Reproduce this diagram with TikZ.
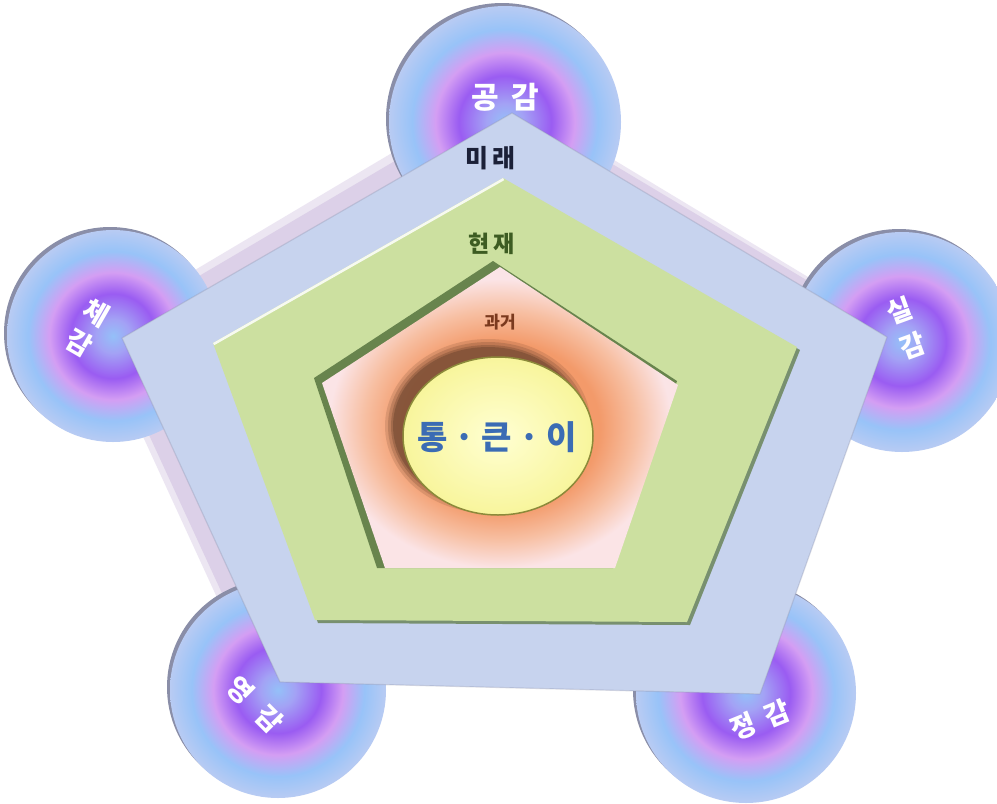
\documentclass[tikz,border=0pt]{standalone}
\usepackage{fontspec}
\usetikzlibrary{shapes.geometric}
\newfontfamily\kr{Noto Sans CJK KR}
\definecolor{orbA}{HTML}{94C0F8}
\definecolor{orbB}{HTML}{A3A2F5}
\definecolor{orbC}{HTML}{9A5CF2}
\definecolor{orbD}{HTML}{D49EF3}
\definecolor{orbE}{HTML}{98C3F8}
\definecolor{orbF}{HTML}{B8CBF3}
\definecolor{orbrim}{HTML}{8A8EA8}
\definecolor{pastA}{HTML}{F39A6A}
\definecolor{pastB}{HTML}{F7BFA2}
\definecolor{pastC}{HTML}{FBE4E6}
\definecolor{outerfill}{HTML}{C7D3EE}
\definecolor{outershadow}{HTML}{D6C8E4}
\definecolor{greenfill}{HTML}{CCE0A0}
\definecolor{greendark}{HTML}{5E7A45}
\definecolor{ellshadow}{HTML}{6E4630}
\definecolor{yelA}{HTML}{FFFFD2}
\definecolor{yelB}{HTML}{F8F59C}
\definecolor{yelrim}{HTML}{8C8A3A}
\definecolor{futurec}{HTML}{1B2038}
\definecolor{presentc}{HTML}{3D5C22}
\definecolor{pastc}{HTML}{7B3A1E}
\definecolor{centerc}{HTML}{3B6CB4}
\pgfdeclareradialshading{orb}{\pgfpoint{0bp}{0bp}}{color(0bp)=(orbA); color(4bp)=(orbB); color(10bp)=(orbC); color(15bp)=(orbD); color(20bp)=(orbE); color(25bp)=(orbF); color(50bp)=(orbF)}
\pgfdeclareradialshading{pastshade}{\pgfpoint{0bp}{-2bp}}{color(0bp)=(pastA); color(14bp)=(pastA); color(19bp)=(pastB); color(24bp)=(pastC); color(50bp)=(pastC)}
\tikzset{
  orbnode/.style={circle, inner sep=0pt, shading=orb, draw=none},
  orbtext/.style={text=white, font=\kr\bfseries\fontsize{28}{36}\selectfont, align=center, inner sep=0pt},
}
\begin{document}
\begin{tikzpicture}[x=1pt,y=-1pt]
\useasboundingbox (0,0) rectangle (997,804);
\fill[white] (0,0) rectangle (997,804);

% outer pentagon vertices
\coordinate (oT) at (512,113);
\coordinate (oL) at (122,338);
\coordinate (oR) at (887,337);
\coordinate (oBL) at (280,682);
\coordinate (oBR) at (760,694);

% soft shadow of the outer pentagon
\fill[outershadow, opacity=0.45] (498,90) -- (876,318) -- (755,690) -- (254,678) -- (94,330) -- cycle;
\fill[outershadow, opacity=0.7] (502,98) -- (880,324) -- (755,690) -- (262,680) -- (102,333) -- cycle;

% circles (rim shadow, then shaded disc)
\fill[orbrim] (502,119) circle (116);
\node[orbnode, minimum size=232pt] (cTop) at (505,122) {};
\fill[orbrim] (110,333) circle (106);
\node[orbnode, minimum size=212pt] (cLeft) at (113,336) {};
\fill[orbrim] (899,339) circle (110);
\node[orbnode, minimum size=220pt] (cRight) at (902,342) {};
\fill[orbrim] (275,687) circle (108);
\node[orbnode, minimum size=216pt] (cBL) at (278,690) {};
\fill[orbrim] (743,690) circle (110);
\node[orbnode, minimum size=220pt] (cBR) at (746,693) {};

% outer pentagon
\fill[outerfill] (oT) -- (oR) -- (oBR) -- (oBL) -- (oL) -- cycle;
\draw[orbrim, opacity=0.3, line width=1.2pt, line join=round] (oT) -- (oR) -- (oBR) -- (oBL) -- (oL) -- cycle;

% green pentagon
\coordinate (gT) at (503,178);
\coordinate (gL) at (213,343);
\coordinate (gR) at (797,347);
\coordinate (gBL) at (315,620);
\coordinate (gBR) at (687,622);
\fill[greendark, opacity=0.75] ([shift={(3,3)}]gT) -- ([shift={(3,3)}]gR) -- ([shift={(3,3)}]gBR) -- ([shift={(3,3)}]gBL) -- ([shift={(3,3)}]gL) -- cycle;
\fill[greenfill] (gT) -- (gR) -- (gBR) -- (gBL) -- (gL) -- cycle;
\begin{scope}
  \clip (gT) -- (gR) -- (gBR) -- (gBL) -- (gL) -- cycle;
  \draw[white, opacity=0.85, line width=5pt] (gL) -- (gT);
\end{scope}

% inner pentagon
\coordinate (pT) at (500,267);
\coordinate (pL) at (322,383);
\coordinate (pR) at (678,385);
\coordinate (pBL) at (385,568);
\coordinate (pBR) at (615,568);
\fill[greendark, opacity=0.9] ([shift={(-7,-6)}]pT) -- ([shift={(-1,-4)}]pR) -- ([shift={(-2,0)}]pBR) -- ([shift={(-8,0)}]pBL) -- ([shift={(-8,-5)}]pL) -- cycle;
\shade[shading=pastshade] (pT) -- (pR) -- (pBR) -- (pBL) -- (pL) -- cycle;

% ellipse with soft brown shadow
\foreach \k/\o in {8/0.18,5/0.25,2/0.35,0/0.5}{
  \fill[ellshadow, opacity=\o] (488,426) ellipse ({95+\k} and {79+\k});
}
\node[ellipse, minimum width=190pt, minimum height=158pt, inner sep=0pt,
      inner color=yelA, outer color=yelB, draw=yelrim, line width=1.5pt] (core) at (498,436) {};

% texts
\node[text=centerc, font=\kr\bfseries\fontsize{33}{33}\selectfont, inner sep=0pt] (tCore) at (497,437) {통\hspace{7pt}·\hspace{7pt}큰\hspace{7pt}·\hspace{7pt}이};
\node[text=pastc, font=\kr\bfseries\fontsize{17}{17}\selectfont, inner sep=0pt] (tPast) at (500,322) {과거};
\node[text=presentc, font=\kr\bfseries\fontsize{23}{23}\selectfont, inner sep=0pt] (tPresent) at (492,244) {현\hspace{4pt}재};
\node[text=futurec, font=\kr\bfseries\fontsize{25}{25}\selectfont, inner sep=0pt] (tFuture) at (490,158) {미\hspace{4pt}래};

\node[orbtext, font=\kr\bfseries\fontsize{30}{30}\selectfont] (tTop) at (505,97) {공\hspace{12pt}감};
\node[orbtext, font=\kr\bfseries\fontsize{27}{34}\selectfont, rotate=-30] (tLeft) at (88,328) {체\\감};
\node[orbtext, font=\kr\bfseries\fontsize{27}{38}\selectfont, rotate=20] (tRight) at (906,328) {실\\감};
\node[orbtext, font=\kr\bfseries\fontsize{27}{27}\selectfont, rotate=-45] (tBL) at (255,705) {영\hspace{16pt}감};
\node[orbtext, font=\kr\bfseries\fontsize{27}{27}\selectfont, rotate=22] (tBR) at (760,720) {정\hspace{12pt}감};
\end{tikzpicture}
\end{document}
